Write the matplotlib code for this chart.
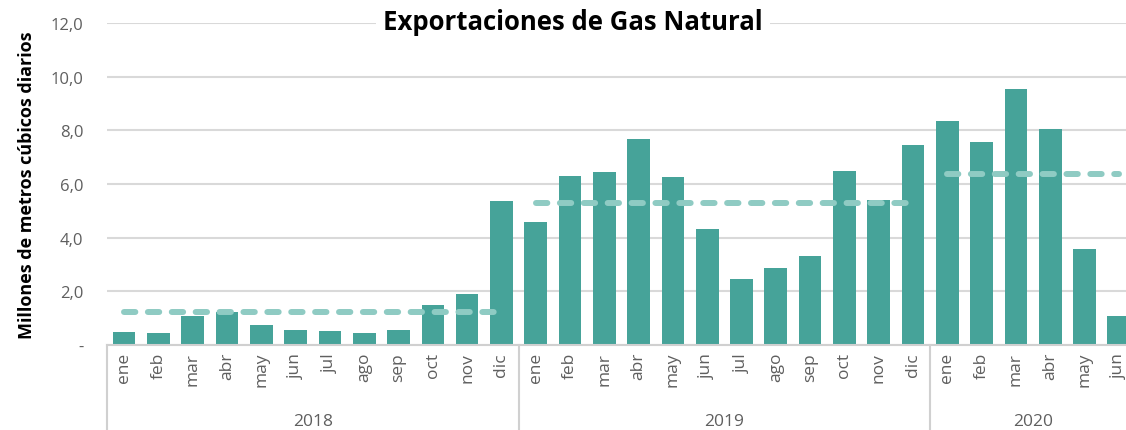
import matplotlib.pyplot as plt
import matplotlib.transforms as mtransforms

# Exportaciones de gas natural, millones de m3 diarios
meses = ['ene', 'feb', 'mar', 'abr', 'may', 'jun', 'jul', 'ago', 'sep', 'oct', 'nov', 'dic']
anios = ['2018', '2019', '2020']
exp_2018 = [0.47, 0.44, 1.08, 1.22, 0.76, 0.55, 0.52, 0.46, 0.57, 1.48, 1.91, 5.37]
exp_2019 = [4.59, 6.29, 6.44, 7.66, 6.26, 4.33, 2.45, 2.88, 3.31, 6.49, 5.40, 7.46]
exp_2020 = [8.35, 7.56, 9.54, 8.06, 3.57, 1.08]
promedios = [1.24, 5.31, 6.38]

series = [exp_2018, exp_2019, exp_2020]
valores = exp_2018 + exp_2019 + exp_2020
etiquetas = meses + meses + meses[:len(exp_2020)]

plt.rcParams['font.family'] = ['Open Sans', 'DejaVu Sans']

bar_color = '#46a399'
avg_color = '#8fcbc3'
grid_color = '#d9d9d9'
text_gray = '#5f5f5f'

fig = plt.figure(figsize=(11.26, 4.31), dpi=100)
ax = fig.add_axes([107 / 1126, 85 / 431, 1 - 107 / 1126, 322 / 431])

x = list(range(len(valores)))
ax.bar(x, valores, width=0.66, color=bar_color, zorder=2)

# lineas de promedio anual
inicio = 0
for serie, prom in zip(series, promedios):
    fin = inicio + len(serie) - 1
    ax.plot([inicio, fin], [prom, prom], color=avg_color, lw=4.3,
            dashes=(1.9, 2.1), dash_capstyle='round', zorder=3)
    inicio = fin + 1

ax.set_xlim(-0.5, 29.21)
ax.set_ylim(0, 12)
ax.set_yticks([0, 2, 4, 6, 8, 10, 12])
ax.set_yticklabels(['-', '2,0', '4,0', '6,0', '8,0', '10,0', '12,0'],
                   fontsize=12, color=text_gray)
ax.grid(axis='y', color=grid_color, lw=1.5, zorder=0)
ax.set_axisbelow(True)

ax.set_xticks(x)
ax.set_xticklabels(etiquetas, rotation=90, fontsize=12.5, color=text_gray)
ax.tick_params(axis='both', length=0)
ax.tick_params(axis='y', pad=17)
ax.tick_params(axis='x', pad=5)

for s in ['top', 'right', 'left']:
    ax.spines[s].set_visible(False)
ax.spines['bottom'].set_color('#d0d0d0')
ax.spines['bottom'].set_linewidth(1.5)

# separadores y etiquetas de anio
trans = mtransforms.blended_transform_factory(ax.transData, ax.transAxes)
limites = [-0.5, 11.5, 23.5, 29.5]
for i, anio in enumerate(anios):
    ax.plot([limites[i], limites[i]], [0, -0.3], transform=trans,
            color='#d0d0d0', lw=1.5, clip_on=False)
    ax.text((limites[i] + limites[i + 1]) / 2, -0.235, anio, transform=trans,
            ha='center', va='center', fontsize=12.5, color=text_gray)

fig.text(573 / 1126, 1 - 22 / 431, 'Exportaciones de Gas Natural',
         ha='center', va='center', fontsize=18.5, fontweight='bold', color='black',
         bbox=dict(facecolor='white', edgecolor='none', pad=5), zorder=5)
fig.text(27 / 1126, 1 - 185 / 431, 'Millones de metros cúbicos diarios',
         rotation=90, ha='center', va='center', fontsize=13, fontweight='bold')

fig.savefig('out.png', dpi=100)
